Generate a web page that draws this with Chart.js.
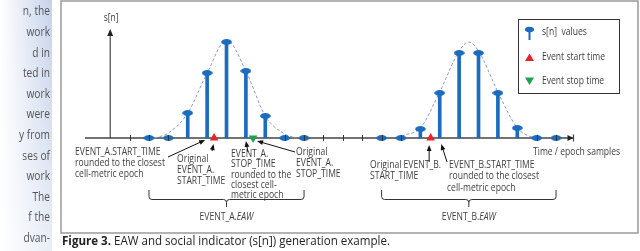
<!DOCTYPE html>
<html>
<head>
<meta charset="utf-8">
<script src="https://cdn.jsdelivr.net/npm/chart.js@4.4.1/dist/chart.umd.min.js"></script>
<style>
  html, body { margin: 0; padding: 0; background: #fff; overflow: hidden; }
  canvas { display: block; }
</style>
</head>
<body>
<canvas id="eawChart" width="640" height="251"></canvas>
<script>
// s[n] samples (epoch index, value)
const sampleEpochs = [2, 3, 4, 5, 6, 7, 8, 9, 10, 14, 15, 16, 17, 18, 19, 20, 21, 22, 23];
const sampleValues = [0, 0, 0.25, 0.65, 0.96, 0.67, 0.22, 0, 0, 0, 0, 0.09, 0.45, 0.85, 0.85, 0.45, 0.10, 0, 0];
// epoch ticks that show on the time axis
const tickEpochs = [1, 2, 3, 9, 10, 11, 12, 13, 14, 15, 22, 23];
// original event times (in epochs)
const startTimes = [5.36, 16.53];
const stopTimes = [7.37];
// dashed envelopes
const envAx = [2.3, 3, 4, 5, 6, 7, 8, 9, 9.6];
const envAy = [0, 0.05, 0.25, 0.65, 0.98, 0.67, 0.22, 0.04, 0];
const envBx = [14.8, 15.2, 16, 17, 18, 18.5, 19, 20, 21, 21.6, 22.1];
const envBy = [0, 0.03, 0.10, 0.46, 0.87, 0.96, 0.87, 0.46, 0.10, 0.02, 0];
// EAW windows (epoch range + brace tip)
const eawFrom = [2, 14];
const eawTo = [10, 23];
const eawTip = [6, 18.5];
const eawNames = ['EVENT_A.', 'EVENT_B.'];

const blue = '#1b6cbf';
const red = '#e8232b';
const green = '#1aa44b';
const txt = '#404040';
const fontName = '"Open Sans", "Noto Sans", sans-serif';

// little ellipse used as the stem head
const head = document.createElement('canvas');
head.width = 11; head.height = 6;
(function () {
    const h = head.getContext('2d');
    h.fillStyle = blue;
    h.beginPath();
    h.ellipse(5.5, 3, 5.3, 2.9, 0, 0, Math.PI * 2);
    h.fill();
})();

const pts = (xs, ys) => xs.map((x, i) => ({ x: x, y: ys[i] }));

let sx = 1; // horizontal squeeze so text width matches the figure font

function say(c, t, x, y, align) {
    c.save();
    c.translate(x, y);
    c.scale(sx, 1);
    c.textAlign = align || 'left';
    c.fillText(t, 0, 0);
    c.restore();
}

function block(c, lines, x, y, lh) {
    lines.forEach((t, i) => say(c, t, x, y + i * lh));
}

function arrow(c, x1, y1, x2, y2) {
    const a = Math.atan2(y2 - y1, x2 - x1), L = 6, W = 2.4;
    c.beginPath();
    c.moveTo(x1, y1);
    c.lineTo(x2 - Math.cos(a) * L * 0.8, y2 - Math.sin(a) * L * 0.8);
    c.stroke();
    c.beginPath();
    c.moveTo(x2, y2);
    c.lineTo(x2 - L * Math.cos(a) + W * Math.sin(a), y2 - L * Math.sin(a) - W * Math.cos(a));
    c.lineTo(x2 - L * Math.cos(a) - W * Math.sin(a), y2 - L * Math.sin(a) + W * Math.cos(a));
    c.closePath();
    c.fill();
}

function brace(c, x1, x2, xm, yTop, yBar, yTip) {
    const r = 3;
    c.beginPath();
    c.moveTo(x1, yTop);
    c.lineTo(x1, yBar - r);
    c.quadraticCurveTo(x1, yBar, x1 + r, yBar);
    c.lineTo(xm - r, yBar);
    c.quadraticCurveTo(xm, yBar, xm, yBar + r);
    c.lineTo(xm, yTip);
    c.moveTo(xm, yBar + r);
    c.quadraticCurveTo(xm, yBar, xm + r, yBar);
    c.lineTo(x2 - r, yBar);
    c.quadraticCurveTo(x2, yBar, x2, yBar - r);
    c.lineTo(x2, yTop);
    c.stroke();
}

const figurePlugin = {
    id: 'figure',
    beforeDraw(chart) {
        const c = chart.ctx;
        c.save();
        c.fillStyle = '#fff';
        c.fillRect(0, 0, chart.width, chart.height);

        // cut-off text column of the page on the left
        const g = c.createLinearGradient(0, 0, 52, 0);
        g.addColorStop(0, '#ffffff');
        g.addColorStop(1, '#c6d3eb');
        c.fillStyle = g;
        c.fillRect(0, 0, 52, chart.height);
        const g2 = c.createLinearGradient(0, 0, 0, chart.height);
        g2.addColorStop(0, 'rgba(255,255,255,0)');
        g2.addColorStop(1, 'rgba(255,255,255,0.6)');
        c.fillStyle = g2;
        c.fillRect(0, 0, 52, chart.height);
        const side = ['n, the', 'work', 'd in', 'ted in', 'work', 'were', 'y from', 'ses of', 'work', 'The', 'f the', 'dvan-'];
        c.fillStyle = '#555';
        c.font = '12px "Open Sans", sans-serif';
        c.textBaseline = 'middle';
        side.forEach((t, i) => {
            c.save();
            c.translate(50, 12 + i * 20.6);
            c.scale(0.85, 1);
            c.textAlign = 'right';
            c.fillText(t, 0, 0);
            c.restore();
        });

        // frame
        c.strokeStyle = '#9a9a9a';
        c.lineWidth = 1.5;
        c.strokeRect(61, 1, 577, 232);

        // caption
        c.textAlign = 'left';
        c.fillStyle = '#222';
        c.font = 'bold 12px ' + fontName;
        const fig = 'Figure 3.';
        const wf = c.measureText(fig).width;
        c.font = '12px ' + fontName;
        const rest = ' EAW and social indicator (s[n]) generation example.';
        const wr = c.measureText(rest).width;
        const k = 328 / (wf + wr);
        c.save();
        c.translate(62, 242);
        c.scale(k, 1);
        c.font = 'bold 12px ' + fontName;
        c.fillText(fig, 0, 0);
        c.font = '12px ' + fontName;
        c.fillText(rest, wf, 0);
        c.restore();
        c.restore();
    },
    beforeDatasetsDraw(chart) {
        const c = chart.ctx, x = chart.scales.x, y = chart.scales.y;
        const y0 = y.getPixelForValue(0);
        const a = chart.chartArea;
        c.save();
        // time axis
        c.strokeStyle = '#444';
        c.fillStyle = '#222';
        c.lineWidth = 1.3;
        c.beginPath();
        c.moveTo(a.left, y0);
        c.lineTo(a.right, y0);
        c.stroke();
        c.beginPath();
        c.moveTo(a.right, y0);
        c.lineTo(a.right - 6, y0 - 3);
        c.lineTo(a.right - 6, y0 + 3);
        c.closePath();
        c.fill();
        c.lineWidth = 1.2;
        c.beginPath();
        c.moveTo(a.right, y0 - 3.5);
        c.lineTo(a.right, y0 + 3.5);
        c.stroke();
        // s[n] axis
        const xa = x.getPixelForValue(0);
        c.lineWidth = 1;
        c.strokeStyle = '#222';
        c.beginPath();
        c.moveTo(xa, y0);
        c.lineTo(xa, a.top + 5);
        c.stroke();
        c.beginPath();
        c.moveTo(xa, a.top - 1);
        c.lineTo(xa - 3, a.top + 6);
        c.lineTo(xa + 3, a.top + 6);
        c.closePath();
        c.fill();
        c.restore();
    },
    afterDatasetsDraw(chart) {
        const c = chart.ctx, x = chart.scales.x, y = chart.scales.y;
        const y0 = y.getPixelForValue(0);
        c.save();
        c.strokeStyle = '#333';
        c.lineWidth = 1;
        tickEpochs.forEach(n => {
            const px = Math.round(x.getPixelForValue(n)) + 0.5;
            c.beginPath();
            c.moveTo(px, y0 - 3);
            c.lineTo(px, y0 + 3);
            c.stroke();
        });

        c.font = '11px ' + fontName;
        sx = Math.min(1.15, Math.max(0.7, 90 / c.measureText('rounded to the closest').width));
        c.fillStyle = txt;
        c.textBaseline = 'middle';

        say(c, 's[n]', x.getPixelForValue(0) + 1, 18, 'center');
        say(c, 'Time / epoch samples', 533, 152);

        block(c, ['EVENT_A.START_TIME', 'rounded to the closest', 'cell-metric epoch'], 75, 152, 11);
        block(c, ['Original', 'EVENT_A.', 'START_TIME'], 177, 159, 10.7);
        block(c, ['EVENT_A.', 'STOP_TIME', 'rounded to the', 'closest cell-', 'metric epoch'], 231, 154, 10.2);
        block(c, ['Original', 'EVENT_A.', 'STOP_TIME'], 296, 152, 10.7);
        block(c, ['Original EVENT_B.', 'START_TIME'], 370, 165, 10.7);
        block(c, ['EVENT_B.START_TIME', 'rounded to the closest'], 449, 165, 11.3);
        say(c, 'cell-metric epoch', 447, 187.6);

        // pointers to the marks
        c.strokeStyle = '#111';
        c.fillStyle = '#111';
        c.lineWidth = 1;
        arrow(c, 168, 157, x.getPixelForValue(5) - 2, y0 + 2);
        arrow(c, 212, 151, x.getPixelForValue(startTimes[0]) - 0.5, y0 + 6);
        arrow(c, 248, 152, x.getPixelForValue(7), y0 + 3);
        arrow(c, 295, 152, x.getPixelForValue(stopTimes[0]) + 4, y0 + 3);
        arrow(c, x.getPixelForValue(startTimes[1]) - 1.5, 162, x.getPixelForValue(startTimes[1]) - 1.5, y0 + 7);
        arrow(c, 447, 162, x.getPixelForValue(17) + 1.5, y0 + 6);

        // EAW braces
        c.strokeStyle = '#333';
        for (let i = 0; i < eawFrom.length; i++) {
            const xl = x.getPixelForValue(eawFrom[i]);
            const xr = x.getPixelForValue(eawTo[i]);
            const xm = x.getPixelForValue(eawTip[i]);
            brace(c, xl, xr, xm, 190, 199.5, 207);
            c.font = '11px ' + fontName;
            const w1 = c.measureText(eawNames[i]).width * sx;
            c.font = 'italic 11px ' + fontName;
            const w2 = c.measureText('EAW').width * sx;
            const left = xm - (w1 + w2) / 2;
            c.fillStyle = txt;
            c.font = '11px ' + fontName;
            say(c, eawNames[i], left, 217);
            c.font = 'italic 11px ' + fontName;
            say(c, 'EAW', left + w1, 217);
        }

        // legend
        c.strokeStyle = '#333';
        c.lineWidth = 1;
        c.strokeRect(518.5, 19.5, 101, 74);
        c.fillStyle = blue;
        c.fillRect(528.5, 29, 2, 11);
        c.beginPath();
        c.ellipse(529.5, 29.5, 4.5, 2.8, 0, 0, Math.PI * 2);
        c.fill();
        c.fillStyle = red;
        c.beginPath();
        c.moveTo(529.5, 53.5); c.lineTo(534, 61); c.lineTo(525, 61);
        c.closePath(); c.fill();
        c.fillStyle = green;
        c.beginPath();
        c.moveTo(525, 77.5); c.lineTo(534, 77.5); c.lineTo(529.5, 85);
        c.closePath(); c.fill();
        c.fillStyle = txt;
        c.font = '11px ' + fontName;
        say(c, 's[n]  values', 542, 32);
        say(c, 'Event start time', 542, 57);
        say(c, 'Event stop time', 542, 81);
        c.restore();
    }
};

const ctx = document.getElementById('eawChart').getContext('2d');
const samples = pts(sampleEpochs, sampleValues);

new Chart(ctx, {
    type: 'bar',
    data: {
        datasets: [
            {
                type: 'line', label: 'envelope A', data: pts(envAx, envAy),
                borderColor: '#8f9ad4', borderWidth: 1, borderDash: [3, 2],
                pointRadius: 0, cubicInterpolationMode: 'monotone', order: 5
            },
            {
                type: 'line', label: 'envelope B', data: pts(envBx, envBy),
                borderColor: '#8f9ad4', borderWidth: 1, borderDash: [3, 2],
                pointRadius: 0, cubicInterpolationMode: 'monotone', order: 5
            },
            {
                type: 'bar', label: 's[n] stems', data: samples,
                backgroundColor: blue, barThickness: 3, order: 3
            },
            {
                type: 'scatter', label: 's[n] values', data: samples,
                pointStyle: head, pointRadius: 5, order: 2, clip: false
            },
            {
                type: 'scatter', label: 'Event start time', data: startTimes.map(t => ({ x: t, y: 0 })),
                pointStyle: 'triangle', pointRadius: 5, backgroundColor: red, borderWidth: 0, order: 1, clip: false
            },
            {
                type: 'scatter', label: 'Event stop time', data: stopTimes.map(t => ({ x: t, y: 0 })),
                pointStyle: 'triangle', rotation: 180, pointRadius: 5, backgroundColor: green, borderWidth: 0, order: 1, clip: false
            }
        ]
    },
    options: {
        responsive: false,
        animation: false,
        events: [],
        layout: { padding: { left: 85, right: 66.5, top: 30, bottom: 101 } },
        scales: {
            x: { type: 'linear', min: -1.3, max: 23.9, offset: false, display: false },
            y: { min: -0.12, max: 1.08, display: false }
        },
        plugins: {
            legend: { display: false },
            tooltip: { enabled: false }
        }
    },
    plugins: [figurePlugin]
});
</script>
</body>
</html>
